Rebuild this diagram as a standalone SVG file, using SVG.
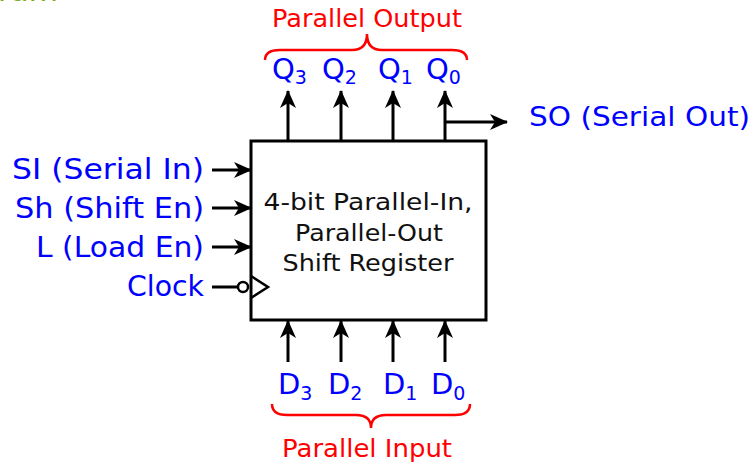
<svg xmlns="http://www.w3.org/2000/svg" width="756" height="466" viewBox="0 0 756 466">
<defs>
<marker id="ah" viewBox="0 0 18 16" refX="17" refY="8" markerWidth="18" markerHeight="16" markerUnits="userSpaceOnUse" orient="auto">
<path d="M0,0 L18,8 L0,16 L5,8 Z" fill="#000"/>
</marker>
<style>
.lbl{font-family:"DejaVu Sans","Verdana",sans-serif;fill:#0000ff;}
.red{font-family:"DejaVu Sans","Verdana",sans-serif;fill:#ff0000;font-size:24px;}
.ctr{font-family:"DejaVu Sans","Verdana",sans-serif;fill:#111;font-size:23px;text-anchor:middle;}
.wire{stroke:#000;stroke-width:3;fill:none;}
.arr{stroke:#000;stroke-width:3;fill:none;marker-end:url(#ah);}
.brace{stroke:#ff0000;stroke-width:2.5;fill:none;}
</style>
</defs>
<rect width="756" height="466" fill="#fff"/>
<text x="-2" y="1" style="font-family:'DejaVu Sans',sans-serif;font-size:30px;fill:#77a824">ram</text>

<g id="register">
<rect x="251" y="141" width="235" height="179" fill="#fff" stroke="#000" stroke-width="3"/>
<text class="ctr" x="368" y="210" textLength="209" lengthAdjust="spacingAndGlyphs">4-bit Parallel-In,</text>
<text class="ctr" x="369" y="241" textLength="148" lengthAdjust="spacingAndGlyphs">Parallel-Out</text>
<text class="ctr" x="368" y="271" textLength="171" lengthAdjust="spacingAndGlyphs">Shift Register</text>
<path d="M251,276 L268,287 L251,298" fill="none" stroke="#000" stroke-width="2.5"/>
</g>

<g id="connectors">
<line class="arr" x1="288" y1="141" x2="288" y2="91"/>
<line class="arr" x1="341" y1="141" x2="341" y2="91"/>
<line class="arr" x1="393" y1="141" x2="393" y2="91"/>
<line class="arr" x1="445" y1="141" x2="445" y2="91"/>
<line class="arr" x1="445" y1="122" x2="507" y2="122"/>
<line class="arr" x1="288" y1="362" x2="288" y2="321"/>
<line class="arr" x1="341" y1="362" x2="341" y2="321"/>
<line class="arr" x1="393" y1="362" x2="393" y2="321"/>
<line class="arr" x1="445" y1="362" x2="445" y2="321"/>
<line class="arr" x1="212" y1="170" x2="251" y2="170"/>
<line class="arr" x1="212" y1="208" x2="251" y2="208"/>
<line class="arr" x1="212" y1="247" x2="251" y2="247"/>
<line class="wire" x1="212" y1="287" x2="238" y2="287"/>
<circle cx="243" cy="287" r="5" fill="#fff" stroke="#000" stroke-width="2.5"/>
</g>

<g id="outputs">
<path class="brace" d="M265,60 Q265,50 280,50 L352,50 Q367,50 367,34 Q367,50 382,50 L452,50 Q467,50 467,60"/>
<text class="red" x="272" y="27" textLength="190" lengthAdjust="spacingAndGlyphs">Parallel Output</text>
<text class="lbl" x="272" y="79" font-size="29">Q<tspan font-size="19" dy="5">3</tspan></text>
<text class="lbl" x="322" y="79" font-size="29">Q<tspan font-size="19" dy="5">2</tspan></text>
<text class="lbl" x="378" y="79" font-size="29">Q<tspan font-size="19" dy="5">1</tspan></text>
<text class="lbl" x="426" y="79" font-size="29">Q<tspan font-size="19" dy="5">0</tspan></text>
<text class="lbl" x="529" y="126" font-size="27" textLength="221" lengthAdjust="spacingAndGlyphs">SO (Serial Out)</text>
</g>

<g id="inputs">
<text class="lbl" x="204" y="179" font-size="29" text-anchor="end" textLength="192" lengthAdjust="spacingAndGlyphs">SI (Serial In)</text>
<text class="lbl" x="204" y="218" font-size="29" text-anchor="end" textLength="189" lengthAdjust="spacingAndGlyphs">Sh (Shift En)</text>
<text class="lbl" x="204" y="257" font-size="29" text-anchor="end" textLength="168" lengthAdjust="spacingAndGlyphs">L (Load En)</text>
<text class="lbl" x="204" y="296" font-size="29" text-anchor="end" textLength="77" lengthAdjust="spacingAndGlyphs">Clock</text>
</g>

<g id="parallel-in">
<text class="lbl" x="278" y="394" font-size="29">D<tspan font-size="19" dy="6">3</tspan></text>
<text class="lbl" x="328" y="394" font-size="29">D<tspan font-size="19" dy="6">2</tspan></text>
<text class="lbl" x="383" y="394" font-size="29">D<tspan font-size="19" dy="6">1</tspan></text>
<text class="lbl" x="431" y="394" font-size="29">D<tspan font-size="19" dy="6">0</tspan></text>
<path class="brace" d="M272,404 Q272,415 287,415 L356,415 Q371,415 371,428 Q371,415 386,415 L455,415 Q470,415 470,404"/>
<text class="red" x="282" y="457" textLength="170" lengthAdjust="spacingAndGlyphs">Parallel Input</text>
</g>
</svg>
